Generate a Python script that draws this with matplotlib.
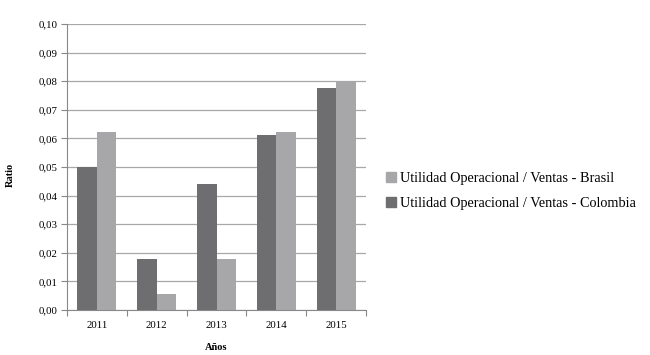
import numpy as np
import matplotlib
matplotlib.use('Agg')
from matplotlib import pyplot as plt
from matplotlib.patches import Patch

years = ['2011', '2012', '2013', '2014', '2015']
colombia = [0.050, 0.0177, 0.044, 0.0613, 0.0775]
brasil = [0.0622, 0.0055, 0.0177, 0.0622, 0.080]
yticks = np.arange(0, 0.101, 0.01)

plt.rcParams['font.family'] = ['Liberation Serif', 'DejaVu Serif']

dark = '#6e6e71'
light = '#a7a7aa'

fig = plt.figure(figsize=(6.5, 3.55), dpi=100)
ax = fig.add_axes([67/650, 1 - 310/355, 299/650, 286/355])

x = np.arange(len(years))
w = 0.325
ax.bar(x - w/2, colombia, w, color=dark, zorder=3)
ax.bar(x + w/2, brasil, w, color=light, zorder=3)

ax.set_xlim(-0.5, len(years) - 0.5)
ax.set_ylim(0, 0.10)
ax.set_yticks(yticks)
ax.set_yticklabels([('%.2f' % v).replace('.', ',') for v in yticks])
ax.yaxis.grid(True, color='#a8a8a8', linewidth=0.9, zorder=0)

# category boundaries as ticks on x axis
ax.set_xticks(np.arange(-0.5, len(years), 1.0))
ax.set_xticklabels([])
ax.set_xticks(x, minor=True)
ax.set_xticklabels(years, minor=True)
ax.tick_params(axis='x', which='minor', length=0, pad=8, labelsize=7.8)
ax.tick_params(axis='x', which='major', length=4, color='#888888', direction='out')
ax.tick_params(axis='y', length=4, color='#888888', labelsize=7.8, pad=3)

for s in ['top', 'right']:
    ax.spines[s].set_visible(False)
for s in ['left', 'bottom']:
    ax.spines[s].set_color('#888888')

fig.text(10/650, 1 - 175/355, 'Ratio', rotation=90, fontsize=7.5, fontweight='bold',
         ha='center', va='center')
fig.text(216/650, 1 - 347/355, 'Años', fontsize=7.5, fontweight='bold',
         ha='center', va='center')

handles = [Patch(color=light, label='Utilidad Operacional / Ventas - Brasil'),
           Patch(color=dark, label='Utilidad Operacional / Ventas - Colombia')]
fig.legend(handles=handles, loc='center left', bbox_to_anchor=(373/650, 1 - 191/355),
           frameon=False, fontsize=10.3, handlelength=0.7, handleheight=0.7,
           handletextpad=0.3, labelspacing=0.85)

fig.savefig('out.png', dpi=100)
